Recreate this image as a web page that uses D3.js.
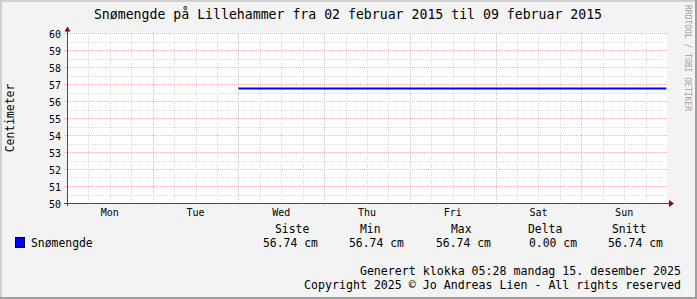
<!DOCTYPE html>
<html>
<head>
<meta charset="utf-8">
<script src="https://cdn.jsdelivr.net/npm/d3@7"></script>
<style>
body{margin:0;padding:0;background:#f3f3f3;}
svg{display:block;}
text{font-family:"DejaVu Sans Mono",monospace;fill:#000;}
</style>
</head>
<body>
<div id="chart"></div>
<script>
var W=697,H=299;
var title="Snømengde på Lillehammer fra 02 februar 2015 til 09 februar 2015";
var yLabel="Centimeter";
var dayLabels=["Mon","Tue","Wed","Thu","Fri","Sat","Sun"];
var seriesName="Snømengde";
var seriesTimes=["2015-02-04T00:00","2015-02-05T00:00","2015-02-06T00:00","2015-02-07T00:00","2015-02-08T00:00","2015-02-08T23:50"];
var seriesValues=[56.74,56.74,56.74,56.74,56.74,56.74];
var statHeads=["Siste","Min","Max","Delta","Snitt"];
var statVals=["56.74 cm","56.74 cm","56.74 cm","0.00 cm","56.74 cm"];
var footer=["Generert klokka 05:28 mandag 15. desember 2025","Copyright 2025 © Jo Andreas Lien - All rights reserved"];

var parse=d3.timeParse("%Y-%m-%dT%H:%M");
var t0=parse("2015-02-02T00:00"),t1=parse("2015-02-09T00:00");

var svg=d3.select("#chart").append("svg").attr("width",W).attr("height",H);

// background + 3d border
svg.append("rect").attr("width",W).attr("height",H).attr("fill","#f3f3f3");
svg.append("rect").attr("x",0).attr("y",0).attr("width",2).attr("height",H).attr("fill","#cfcfcf");
svg.append("rect").attr("x",0).attr("y",0).attr("width",W).attr("height",2).attr("fill","#cfcfcf");
svg.append("rect").attr("x",W-2).attr("y",0).attr("width",2).attr("height",H).attr("fill","#9e9e9e");
svg.append("rect").attr("x",0).attr("y",H-2).attr("width",W).attr("height",2).attr("fill","#9e9e9e");

var x=d3.scaleTime().domain([t0,t1]).range([67,667]);
var y=d3.scaleLinear().domain([50,60]).range([203,33]);

svg.append("rect").attr("x",67).attr("y",33).attr("width",600).attr("height",170).attr("fill","#fff");

// grid
var minorX=d3.timeHour.every(6).range(t0,t1).filter(function(d){return d.getHours()!=0;});
var majorX=d3.timeDay.range(t0,t1).slice(1);
var minorY=d3.range(50.5,60,1);
var majorY=d3.range(51,61,1);
var grid=svg.append("g").attr("shape-rendering","crispEdges");
grid.selectAll(".mx").data(minorX).enter().append("line")
  .attr("x1",function(d){return Math.round(x(d))+0.5;}).attr("x2",function(d){return Math.round(x(d))+0.5;})
  .attr("y1",33).attr("y2",203).attr("stroke","#dadada").attr("stroke-dasharray","1,1");
grid.selectAll(".my").data(minorY).enter().append("line")
  .attr("x1",67).attr("x2",667)
  .attr("y1",function(d){return Math.round(y(d))+0.5;}).attr("y2",function(d){return Math.round(y(d))+0.5;})
  .attr("stroke","#dadada").attr("stroke-dasharray","1,1");
grid.selectAll(".Mx").data(majorX).enter().append("line")
  .attr("x1",function(d){return Math.round(x(d))+0.5;}).attr("x2",function(d){return Math.round(x(d))+0.5;})
  .attr("y1",33).attr("y2",206).attr("stroke","#f0b4b4").attr("stroke-dasharray","1,1");
grid.selectAll(".My").data(majorY).enter().append("line")
  .attr("x1",64).attr("x2",667)
  .attr("y1",function(d){return Math.round(y(d))+0.5;}).attr("y2",function(d){return Math.round(y(d))+0.5;})
  .attr("stroke","#f0b4b4").attr("stroke-dasharray","1,1");

// y labels
svg.selectAll(".yl").data(d3.range(50,61,1)).enter().append("text")
  .attr("x",61).attr("y",function(d){return y(d)+4.5;})
  .attr("text-anchor","end").style("font-size","10px").text(function(d){return d;});

// x labels at noon
svg.selectAll(".xl").data(dayLabels).enter().append("text")
  .attr("x",function(d,i){return x(d3.timeHour.offset(t0,24*i+12));})
  .attr("y",216).attr("text-anchor","middle").style("font-size","10px").text(function(d){return d;});

// axes
var ax=svg.append("g").attr("shape-rendering","crispEdges");
ax.append("line").attr("x1",67.5).attr("x2",67.5).attr("y1",206).attr("y2",30).attr("stroke","#4a4a4a");
ax.append("line").attr("x1",64).attr("x2",670).attr("y1",203.5).attr("y2",203.5).attr("stroke","#4a4a4a");
svg.append("path").attr("d","M64.5 31.5 L70.5 31.5 L67.5 26.5 Z").attr("fill","#7f1010");
svg.append("path").attr("d","M669 200 L669 207 L674 203.5 Z").attr("fill","#7f1010");

// series line
var pts=seriesTimes.map(function(t,i){return [parse(t),seriesValues[i]];});
svg.append("path").datum(pts)
  .attr("d",d3.line().x(function(d){return x(d[0]);}).y(function(d){return y(d[1]);}))
  .attr("fill","none").attr("stroke","#0000ff").attr("stroke-width",2);

// title
svg.append("text").attr("x",348).attr("y",18.5).attr("text-anchor","middle")
  .style("font-size","13.2px").text(title);

// y axis title
svg.append("text").attr("transform","translate(14,118) rotate(-90)")
  .attr("text-anchor","middle").style("font-size","11.4px").text(yLabel);

// watermark
svg.append("text").attr("transform","translate(685,5) rotate(90)")
  .attr("text-anchor","start").style("font-size","8px").style("fill","#a0a0a0")
  .text("RRDTOOL / TOBI OETIKER");

// legend
svg.append("rect").attr("x",15.5).attr("y",237.5).attr("width",9).attr("height",10)
  .attr("fill","#0000ff").attr("stroke","#000");
svg.append("text").attr("x",31).attr("y",247).style("font-size","11.4px").text(seriesName);
var headX=[275,360,451,528,612];
var valX=[263,349,436,529,608];
svg.selectAll(".sh").data(statHeads).enter().append("text")
  .attr("x",function(d,i){return headX[i];}).attr("y",233).style("font-size","11.4px").text(function(d){return d;});
svg.selectAll(".sv").data(statVals).enter().append("text")
  .attr("x",function(d,i){return valX[i];}).attr("y",247).style("font-size","11.4px").text(function(d){return d;});

// footer
svg.selectAll(".ft").data(footer).enter().append("text")
  .attr("x",681).attr("y",function(d,i){return 275+i*14;})
  .attr("text-anchor","end").style("font-size","11.6px").text(function(d){return d;});
</script>
</body>
</html>
